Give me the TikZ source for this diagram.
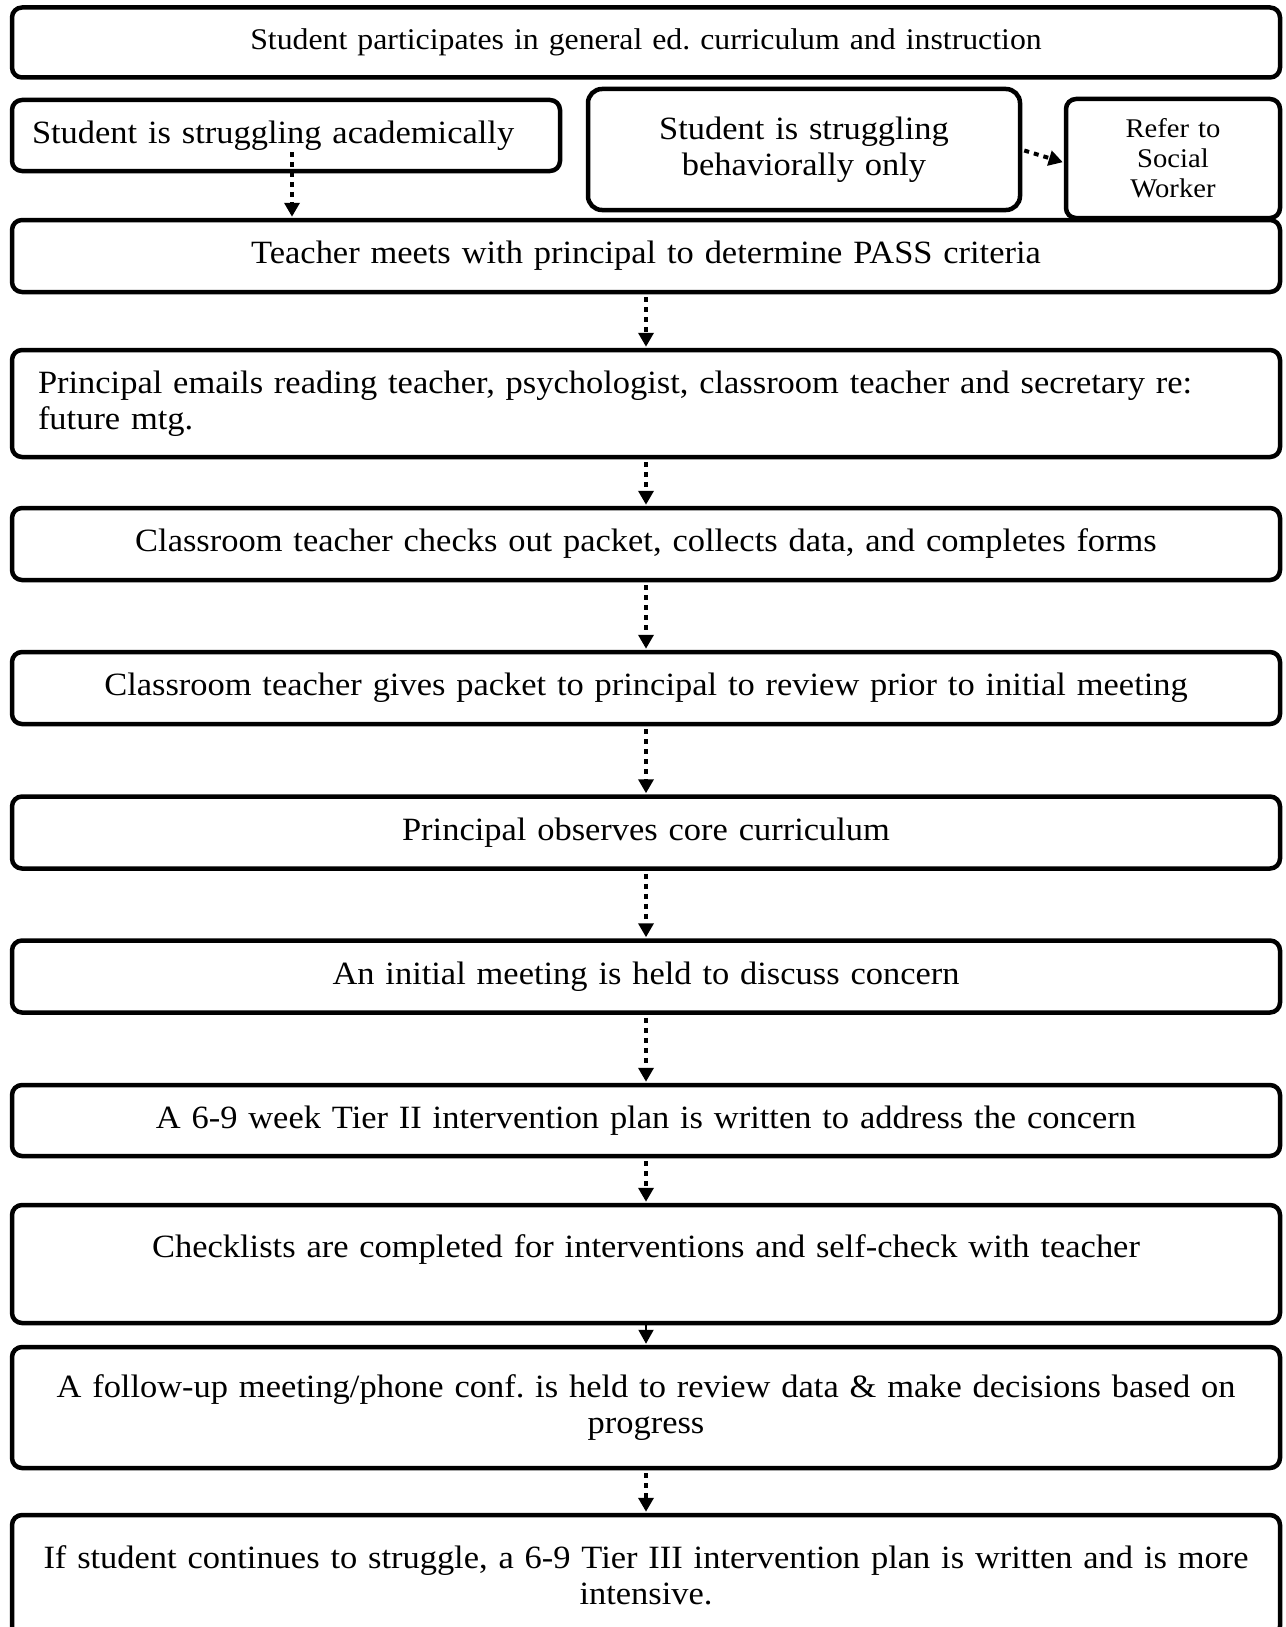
\documentclass[tikz,border=0pt]{standalone}
\usepackage{fontspec}
\setmainfont{Liberation Serif}[FakeStretch=1.06, WordSpace=0.75]
\usetikzlibrary{arrows.meta}
\frenchspacing

\tikzset{
  stepbox/.style={draw, line width=4.5pt, rounded corners=10pt, inner ysep=4pt, font=\fontsize{32.5}{36}\selectfont},
  mainbox/.style={stepbox, inner xsep=26pt, text width=1216pt, align=center},
  dotarrow/.style={line width=4pt, dash pattern=on 5pt off 5pt, -{Triangle[width=15pt,length=14pt]}, shorten >=1pt},
  solidarrow/.style={line width=2pt, -{Triangle[width=15pt,length=14pt]}, shorten >=1pt}
}

\begin{document}
\begin{tikzpicture}[x=1pt, y=-1pt]
\useasboundingbox (0,0) rectangle (1285,1627);

% Top row
\node[mainbox, minimum height=70pt, font=\fontsize{30}{34}\selectfont] (gened) at (646,42.5) {Student participates in general ed. curriculum and instruction};
\node[stepbox, minimum width=548pt, minimum height=71pt, inner xsep=20pt, text width=508pt, align=left] (acad) at (286,135.5) {Student is struggling academically};
\node[stepbox, minimum width=432pt, minimum height=121pt, rounded corners=14pt, text width=400pt, align=center] (behav) at (804,149.5) {Student is struggling\\behaviorally only};
\node[stepbox, minimum width=214pt, minimum height=119pt, text width=190pt, inner xsep=12pt, align=center, font=\fontsize{27}{30}\selectfont] (social) at (1173,158.5) {Refer to\\Social\\Worker};

% Main column
\node[mainbox, minimum height=72pt] (pass) at (646,256) {Teacher meets with principal to determine PASS criteria};
\node[mainbox, minimum height=107pt, align=left] (emails) at (646,403.5) {Principal emails reading teacher, psychologist, classroom teacher and secretary re:\\future mtg.};
\node[mainbox, minimum height=72pt] (packet) at (646,544) {Classroom teacher checks out packet, collects data, and completes forms};
\node[mainbox, minimum height=72pt] (review) at (646,688) {Classroom teacher gives packet to principal to review prior to initial meeting};
\node[mainbox, minimum height=72pt] (observe) at (646,832.5) {Principal observes core curriculum};
\node[mainbox, minimum height=72pt] (initial) at (646,976.5) {An initial meeting is held to discuss concern};
\node[mainbox, minimum height=71pt] (plan) at (646,1120.5) {A 6-9 week Tier II intervention plan is written to address the concern};
\node[mainbox, minimum height=118pt] (checks) at (646,1264) {Checklists are completed for interventions and self-check with teacher\\\mbox{}};
\node[mainbox, minimum height=121pt] (followup) at (646,1407.5) {A follow-up meeting/phone conf. is held to review data \& make decisions based on\\progress};
\node[mainbox, minimum height=121pt, inner xsep=18pt, text width=1232pt] (tier3) at (646,1575.5) {If student continues to struggle, a 6-9 Tier III intervention plan is written and is more\\intensive.};

% Arrows
\coordinate (acadout) at (292,152);
\draw[dotarrow] (acadout) -- (acadout |- pass.north);
\draw[dotarrow] (behav.east) ++(2pt,-1pt) coordinate (behavout) -- ([yshift=-4pt]social.west);
\foreach \a/\b in {pass/emails, emails/packet, packet/review, review/observe, observe/initial, initial/plan, plan/checks, followup/tier3} {
    \draw[dotarrow] ([yshift=-3pt]\a.south) -- (\b.north);
}
\draw[solidarrow] (checks.south) -- (followup.north);
\end{tikzpicture}
\end{document}
